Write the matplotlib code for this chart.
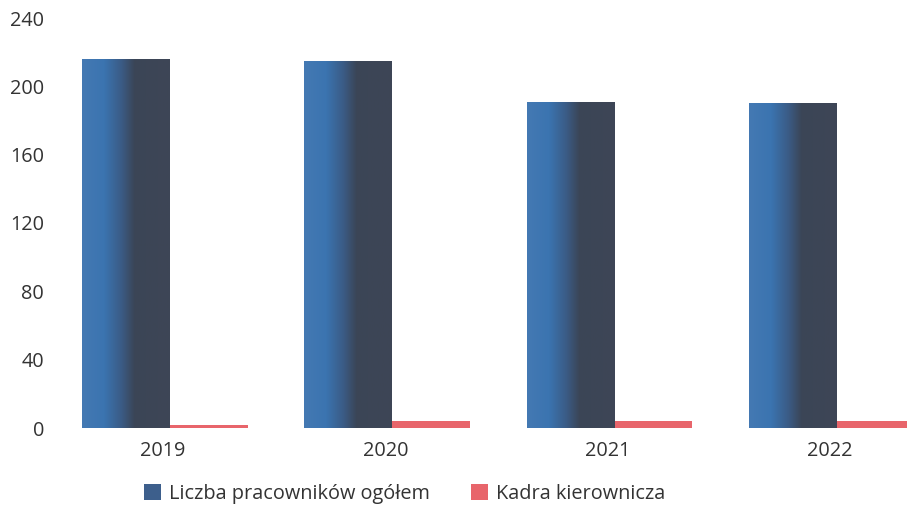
import numpy as np
import matplotlib
matplotlib.use("Agg")
from matplotlib import pyplot as plt
from matplotlib.colors import LinearSegmentedColormap
from matplotlib.patches import Patch
from matplotlib.transforms import ScaledTranslation

years = ["2019", "2020", "2021", "2022"]
total_staff = [216, 215, 191, 190]
managers = [2, 4, 4, 4]
labels = ["Liczba pracowników ogółem", "Kadra kierownicza"]

plt.rcParams["font.family"] = ["Open Sans", "DejaVu Sans"]

fig = plt.figure(figsize=(9.07, 5.13), dpi=100)
ax = fig.add_axes([55 / 907, 1 - 428 / 513, 1 - 55 / 907, (428 - 18) / 513])

x = np.arange(len(years))
w_blue = 0.395
w_red = 0.35

# blue bars with a left-to-right shading like the scan
blue_cmap = LinearSegmentedColormap.from_list(
    "bluegrey", [(0.0, "#4479b3"), (0.25, "#3b74b0"), (0.45, "#3a5b85"),
                 (0.6, "#3b4556"), (1.0, "#3e4656")])
bars = ax.bar(x - w_blue, total_staff, w_blue, align="edge", color="#3e6796", zorder=2)
grad = np.linspace(0, 1, 256).reshape(1, -1)
for b in bars:
    x0, y0 = b.get_x(), b.get_y()
    im = ax.imshow(grad, cmap=blue_cmap, aspect="auto", zorder=3,
                   extent=[x0, x0 + b.get_width(), y0, y0 + b.get_height()])
    im.set_clip_path(b)

ax.bar(x, managers, w_red, align="edge", color="#e8656b", zorder=2)

ax.set_xlim((55 - 170) / 222.3, (907 - 170) / 222.3)
ax.set_ylim(0, 240)
ax.set_yticks(range(0, 241, 40))
ax.set_xticks(x)
ax.set_xticklabels(years)
for s in ax.spines.values():
    s.set_visible(False)
ax.tick_params(axis="both", length=0, labelsize=14.3, colors="#333333")
ax.tick_params(axis="y", pad=8)
ax.tick_params(axis="x", pad=9)
shift = ScaledTranslation(-7 / 100, 0, fig.dpi_scale_trans)
for lab in ax.get_xticklabels():
    lab.set_transform(lab.get_transform() + shift)

handles = [Patch(facecolor="#3d5f8c"), Patch(facecolor="#e8656b")]
fig.legend(handles, labels, loc="center", bbox_to_anchor=(0.446, 0.037),
           ncol=2, frameon=False, fontsize=14.3, handlelength=0.85,
           handleheight=0.85, handletextpad=0.4, columnspacing=2.1,
           labelcolor="#333333")

plt.savefig("out.png", dpi=100)
